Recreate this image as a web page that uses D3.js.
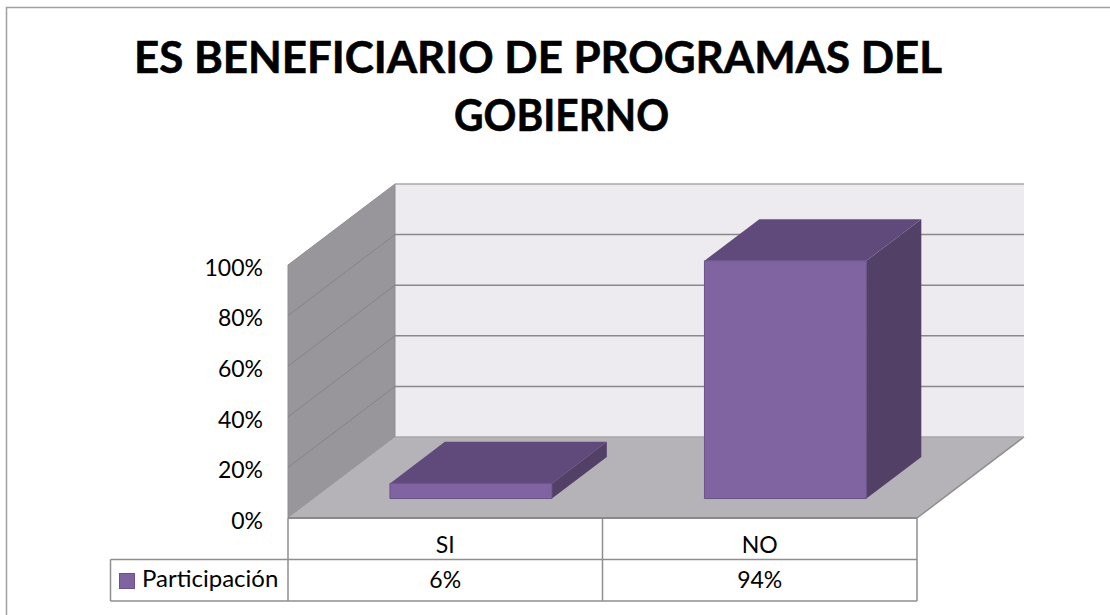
<!DOCTYPE html>
<html>
<head>
<meta charset="utf-8">
<script src="https://cdn.jsdelivr.net/npm/d3@7"></script>
<style>
    body { margin: 0; background: #fff; }
    svg { display: block; }
    text { font-family: Lato, sans-serif; fill: #000; }
    .cell { fill: none; stroke: #8e8e8e; stroke-width: 1.5px; }
    .grid { stroke: #8a888a; stroke-width: 1.5px; fill: none; }
    .gridside { stroke: #858386; stroke-width: 1px; fill: none; }
</style>
</head>
<body>
<script>
var categories = ["SI", "NO"];
var seriesName = "Participación";
var values = [0.06, 0.94];
var valueLabels = ["6%", "94%"];
var yTicks = [0, 0.2, 0.4, 0.6, 0.8, 1];
var titleLines = ["ES BENEFICIARIO DE PROGRAMAS DEL", "GOBIERNO"];

var width = 1110,
    height = 615;

var svg = d3.select("body").append("svg")
    .attr("width", width)
    .attr("height", height);

// chart frame, only top and left show in the picture
svg.append("path")
    .attr("d", "M6.5," + height + "V7.5H" + width)
    .attr("fill", "none")
    .attr("stroke", "#a0a0a0")
    .attr("stroke-width", 1.5);

// title, squeezed a bit since Lato runs wider than the original face
svg.selectAll(".title")
    .data(titleLines)
    .enter()
    .append("text")
    .attr("class", "title")
    .attr("x", function (d, i) { return i == 0 ? 538 : 561.5; })
    .attr("y", function (d, i) { return i == 0 ? 73 : 131; })
    .attr("text-anchor", "middle")
    .attr("textLength", function (d, i) { return i == 0 ? 808 : 215; })
    .attr("lengthAdjust", "spacingAndGlyphs")
    .style("font-size", "43px")
    .style("font-weight", 700)
    .style("stroke", "#000")
    .style("stroke-width", 0.6)
    .text(function (d) { return d; });

var x = d3.scaleBand()
    .domain(categories)
    .range([288, 917])
    .paddingInner(0.485)
    .paddingOuter(0.2425);

var y = d3.scaleLinear()
    .domain([0, 1])
    .range([518, 265]);

// oblique projection: depth 0 is the front of the floor, 1 the back wall
var depthX = 107,
    depthY = -81;

function pt(px, v, z) {
    return [px + z * depthX, y(v) + z * depthY];
}

function poly(points) {
    return "M" + points.join("L") + "Z";
}

var left = x.range()[0],
    right = x.range()[1];

// back wall
svg.append("path")
    .attr("d", poly([pt(left, 0, 1), pt(right, 0, 1), pt(right, 1, 1), pt(left, 1, 1)]))
    .attr("fill", "#edebf0");

// left wall
svg.append("path")
    .attr("d", poly([pt(left, 0, 0), pt(left, 0, 1), pt(left, 1, 1), pt(left, 1, 0)]))
    .attr("fill", "#98969a")
    .attr("stroke", "#8f8d91")
    .attr("stroke-width", 1);

// floor
svg.append("path")
    .attr("d", poly([pt(left, 0, 0), pt(right, 0, 0), pt(right, 0, 1), pt(left, 0, 1)]))
    .attr("fill", "#b5b3b7");

svg.append("path")
    .attr("d", "M" + pt(right, 0, 0) + "L" + pt(right, 0, 1))
    .attr("stroke", "#8e8e8e")
    .attr("stroke-width", 1.5);

// gridlines
yTicks.forEach(function (t) {
    svg.append("path")
        .attr("class", "grid")
        .attr("d", "M" + pt(left, t, 1) + "L" + pt(right, t, 1))
        .style("stroke", t == 1 || t == 0 ? "#a9a7aa" : null);
    if (t > 0 && t < 1) {
        svg.append("path")
            .attr("class", "gridside")
            .attr("d", "M" + pt(left, t, 0) + "L" + pt(left, t, 1));
    }
});

// bars
var zFront = 0.24,
    zBack = 0.753;

var bar = svg.selectAll(".bar")
    .data(categories.map(function (c, i) { return { cat: c, value: values[i] }; }))
    .enter()
    .append("g")
    .attr("class", "bar");

bar.append("path")
    .attr("d", function (d) {
        var a = x(d.cat), b = a + x.bandwidth();
        return poly([pt(b, 0, zFront), pt(b, 0, zBack), pt(b, d.value, zBack), pt(b, d.value, zFront)]);
    })
    .attr("fill", "#524067");

bar.append("path")
    .attr("d", function (d) {
        var a = x(d.cat), b = a + x.bandwidth();
        return poly([pt(a, d.value, zFront), pt(b, d.value, zFront), pt(b, d.value, zBack), pt(a, d.value, zBack)]);
    })
    .attr("fill", "#604a7b");

bar.append("path")
    .attr("d", function (d) {
        var a = x(d.cat), b = a + x.bandwidth();
        return poly([pt(a, 0, zFront), pt(b, 0, zFront), pt(b, d.value, zFront), pt(a, d.value, zFront)]);
    })
    .attr("fill", "#8063a1")
    .attr("stroke", "#6b5289")
    .attr("stroke-width", 1);

// value axis, labels only
var yAxis = svg.append("g")
    .attr("transform", "translate(271,2)")
    .call(d3.axisLeft(y).tickValues(yTicks).tickFormat(d3.format(".0%")).tickSize(0));
yAxis.select(".domain").remove();
yAxis.selectAll("text")
    .attr("x", -8)
    .attr("dy", "0.36em")
    .style("font-family", "Lato, sans-serif")
    .style("font-size", "23px");

// data table under the floor
var rowTop = 518,
    rowMid = 559.5,
    rowBottom = 601,
    legendLeft = 110.5;

var step = x.step();
var colEdges = categories.map(function (c, i) { return left + i * step; }).concat([right]);

svg.append("path")
    .attr("class", "cell")
    .attr("d", "M" + legendLeft + "," + rowMid + "H" + right +
        "M" + legendLeft + "," + rowBottom + "H" + right +
        "M" + legendLeft + "," + rowMid + "V" + rowBottom);

colEdges.forEach(function (e) {
    svg.append("path")
        .attr("class", "cell")
        .attr("d", "M" + e + "," + rowTop + "V" + rowBottom);
});

// front edge of the floor
svg.append("path")
    .attr("d", "M" + left + "," + rowTop + "H" + right)
    .attr("stroke", "#8b898c")
    .attr("stroke-width", 2);

categories.forEach(function (c, i) {
    var cx = x(c) + x.bandwidth() / 2;
    svg.append("text")
        .attr("x", cx)
        .attr("y", 553)
        .attr("text-anchor", "middle")
        .style("font-size", "23px")
        .text(c);
    svg.append("text")
        .attr("x", cx)
        .attr("y", 588)
        .attr("text-anchor", "middle")
        .style("font-size", "23px")
        .text(valueLabels[i]);
});

// legend key and series name
svg.append("rect")
    .attr("x", 119.5)
    .attr("y", 573.5)
    .attr("width", 15)
    .attr("height", 15)
    .attr("fill", "#8063a1")
    .attr("stroke", "#6b5289");

svg.append("text")
    .attr("x", 142)
    .attr("y", 587)
    .style("font-size", "24px")
    .text(seriesName);
</script>
</body>
</html>
